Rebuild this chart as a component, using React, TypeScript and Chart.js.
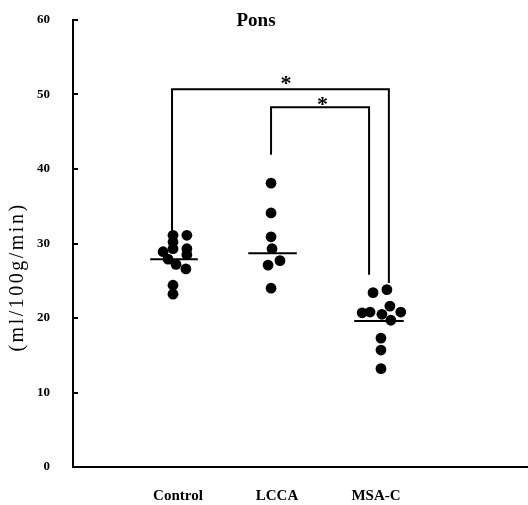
import React, { useEffect, useRef } from "react";
import { Chart, registerables } from "chart.js";

Chart.register(...registerables);

const FONT = "'Liberation Serif', 'Times New Roman', serif";

const categories = ["Control", "LCCA", "MSA-C"];
const yTicks = [0, 10, 20, 30, 40, 50, 60];
const chartTitle = "Pons";
const yAxisTitle = "(ml/100g/min)";

// horizontal jitter of each dot (in category units) and its value
const controlOffset = [-0.05, 0.09, -0.05, -0.05, 0.09, -0.15, 0.09, -0.1, -0.02, 0.08, -0.05, -0.05];
const controlValues = [31.1, 31.1, 30.2, 29.3, 29.3, 28.9, 28.5, 27.9, 27.2, 26.6, 24.4, 23.2];
const lccaOffset = [-0.06, -0.06, -0.06, -0.05, -0.09, 0.03, -0.06];
const lccaValues = [38.1, 34.1, 30.9, 29.3, 27.1, 27.7, 24.0];
const msaOffset = [-0.03, 0.11, -0.14, -0.06, 0.06, 0.14, 0.25, 0.15, 0.05, 0.05, 0.05];
const msaValues = [23.4, 23.8, 20.7, 20.8, 20.5, 21.6, 20.8, 19.7, 17.3, 15.7, 13.2];

// median bars
const medians = [27.9, 28.7, 19.6];
const medianLeft = [-0.28, -0.29, -0.22];
const medianRight = [0.2, 0.2, 0.28];

// significance brackets
const outerBracketX = [0.94, 0.94, 3.13, 3.13];
const outerBracketY = [31.6, 50.7, 50.7, 24.7];
const innerBracketX = [1.94, 1.94, 2.93, 2.93];
const innerBracketY = [41.9, 48.3, 48.3, 25.8];
const starX = [2.09, 2.46];
const starY = [51.9, 49.0];

const groupOffsets = [controlOffset, lccaOffset, msaOffset];
const groupValues = [controlValues, lccaValues, msaValues];

const overlay = {
  id: "overlay",
  afterDraw(chart: any) {
    const ctx = chart.ctx as CanvasRenderingContext2D;
    const xs = chart.scales.x;
    const ys = chart.scales.y;
    const area = chart.chartArea;
    ctx.save();
    // inward tick marks
    ctx.strokeStyle = "#000";
    ctx.lineWidth = 2;
    for (const v of yTicks) {
      const py = Math.round(ys.getPixelForValue(v));
      ctx.beginPath();
      ctx.moveTo(area.left, py);
      ctx.lineTo(area.left + 5, py);
      ctx.stroke();
    }
    // stars
    ctx.fillStyle = "#000";
    ctx.font = `bold 22px ${FONT}`;
    ctx.textBaseline = "alphabetic";
    ctx.textAlign = "left";
    for (let i = 0; i < starX.length; i++) {
      const m = ctx.measureText("*");
      const px = xs.getPixelForValue(starX[i]);
      const py = ys.getPixelForValue(starY[i]);
      const cx = (m.actualBoundingBoxRight - m.actualBoundingBoxLeft) / 2;
      const cy = (m.actualBoundingBoxAscent - m.actualBoundingBoxDescent) / 2;
      ctx.fillText("*", px - cx + m.actualBoundingBoxLeft, py + cy);
    }
    // title
    ctx.font = `bold 19px ${FONT}`;
    ctx.textAlign = "center";
    ctx.textBaseline = "middle";
    ctx.fillText(chartTitle, 256, 21);
    // y axis title
    ctx.translate(18, 277);
    ctx.rotate(-Math.PI / 2);
    ctx.font = `20px ${FONT}`;
    (ctx as any).letterSpacing = "2.5px";
    ctx.fillText(yAxisTitle, 0, 0);
    ctx.restore();
  },
};

export default function App() {
  const ref = useRef<HTMLCanvasElement | null>(null);
  useEffect(() => {
    if (!ref.current) return;
    const datasets: any[] = [];
    groupValues.forEach((vals, g) => {
      datasets.push({
        type: "scatter",
        data: vals.map((v, i) => ({ x: g + 1 + groupOffsets[g][i], y: v })),
        backgroundColor: "#000",
        borderWidth: 0,
        pointRadius: 5.4,
      });
      datasets.push({
        type: "line",
        data: [
          { x: g + 1 + medianLeft[g], y: medians[g] },
          { x: g + 1 + medianRight[g], y: medians[g] },
        ],
        borderColor: "#000",
        borderWidth: 2,
        pointRadius: 0,
        showLine: true,
      });
    });
    [
      [outerBracketX, outerBracketY],
      [innerBracketX, innerBracketY],
    ].forEach(([bx, by]) => {
      datasets.push({
        type: "line",
        data: bx.map((x, i) => ({ x, y: by[i] })),
        borderColor: "#000",
        borderWidth: 2,
        pointRadius: 0,
        showLine: true,
        tension: 0,
      });
    });
    const chart = new Chart(ref.current, {
      type: "scatter",
      data: { datasets },
      options: {
        animation: false,
        responsive: false,
        devicePixelRatio: 1,
        layout: { autoPadding: false, padding: { top: 20, right: 0, left: 0, bottom: 0 } },
        plugins: { legend: { display: false }, tooltip: { enabled: false } },
        scales: {
          x: {
            type: "linear",
            min: -0.06,
            max: 4.535,
            grid: { display: false, drawTicks: false },
            border: { display: true, color: "#000", width: 2 },
            afterBuildTicks: (s: any) => {
              s.ticks = categories.map((_, i) => ({ value: i + 1 }));
            },
            afterFit: (s: any) => {
              s.height = 38;
              s.paddingLeft = 0;
              s.paddingRight = 0;
            },
            ticks: {
              autoSkip: false,
              maxRotation: 0,
              padding: 20,
              color: "#000",
              font: { family: FONT, size: 15, weight: "bold" },
              callback: (v: any) => categories[Math.round(Number(v)) - 1] ?? "",
            },
          },
          y: {
            type: "linear",
            min: 0,
            max: 60,
            grid: { display: false, drawTicks: false },
            border: { display: true, color: "#000", width: 2 },
            afterBuildTicks: (s: any) => {
              s.ticks = yTicks.map((v) => ({ value: v }));
            },
            afterFit: (s: any) => {
              s.width = 73;
              s.paddingTop = 0;
              s.paddingBottom = 0;
            },
            ticks: {
              padding: 23,
              color: "#000",
              font: { family: FONT, size: 13, weight: "bold" },
            },
          },
        },
      },
      plugins: [overlay],
    } as any);
    return () => chart.destroy();
  }, []);
  return (
    <div style={{ position: "absolute", left: 0, top: 0, width: 528, height: 505, background: "#fff" }}>
      <canvas ref={ref} width={528} height={505} style={{ display: "block" }} />
    </div>
  );
}
